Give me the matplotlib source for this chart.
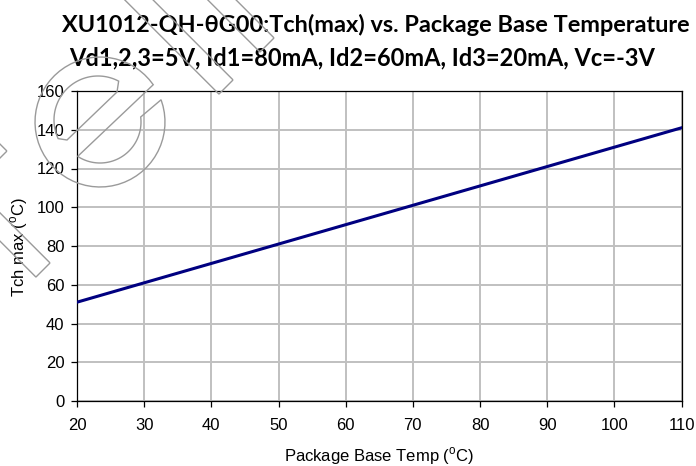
import matplotlib
matplotlib.use("Agg")
import matplotlib.pyplot as plt
from matplotlib.patches import Polygon
import numpy as np

# data
temp = [20, 30, 40, 50, 60, 70, 80, 90, 100, 110]
tch = [51, 61, 71, 81, 91, 101, 111, 121, 131, 141]
xticks = [20, 30, 40, 50, 60, 70, 80, 90, 100, 110]
yticks = [0, 20, 40, 60, 80, 100, 120, 140, 160]

title1 = "XU1012-QH-θG00:Tch(max) vs. Package Base Temperature"
title2 = "Vd1,2,3=5V, Id1=80mA, Id2=60mA, Id3=20mA, Vc=-3V"

plt.rcParams['font.family'] = ['Liberation Sans', 'DejaVu Sans']
plt.rcParams['mathtext.fontset'] = 'custom'
plt.rcParams['mathtext.rm'] = 'Liberation Sans'

W, H = 696, 466
fig = plt.figure(figsize=(W / 100, H / 100), dpi=100)
ax = fig.add_axes([77 / W, 1 - 401 / H, (681.5 - 77) / W, 310 / H])

ax.plot(temp, tch, color='#000080', lw=2.2, zorder=3)
ax.set_xlim(20, 110)
ax.set_ylim(0, 160)
ax.set_xticks(xticks)
ax.set_yticks(yticks)
ax.grid(color='#C0C0C0', lw=1.4)
ax.set_axisbelow(True)
for s in ax.spines.values():
    s.set_color('black')
    s.set_linewidth(0.9)
ax.tick_params(axis='both', direction='out', length=4, width=0.9,
               labelsize=12, colors='black')
ax.tick_params(axis='x', pad=8)
ax.tick_params(axis='y', pad=5)

fig.text(19 / W, 1 - 247 / H, r'Tch max ($^{\rm o}$C)', rotation=90,
         ha='center', va='center', fontsize=12)
fig.text(379 / W, 1 - 456 / H, r'Package Base Temp ($^{\rm o}$C)',
         ha='center', va='center', fontsize=12)

# titles, sized to match the reference widths
fam = ['Lato', 'Open Sans', 'DejaVu Sans']
t1 = fig.text(376 / W, 1 - 32 / H, title1, ha='center', va='baseline',
              fontsize=16, fontweight='bold', family=fam)
t2 = fig.text(362 / W, 1 - 65 / H, title2, ha='center', va='baseline',
              fontsize=16, fontweight='bold', family=fam)
fig.canvas.draw()
r = fig.canvas.get_renderer()
for t, target in [(t1, 628), (t2, 586)]:
    w = t.get_window_extent(r).width
    t.set_fontsize(16 * target / w)

# faint watermark outline (pixel coords, origin top-left)
wm = '#9a9a9a'


def outline(pts):
    p = [(x / W, 1 - y / H) for x, y in pts]
    fig.add_artist(Polygon(p, closed=True, fill=False, edgecolor=wm, lw=1.0,
                           transform=fig.transFigure, zorder=10))


def band(ex, ey, width, length, d=(-1, -1)):
    d = np.array(d, float) / np.hypot(*d)
    n = np.array([-d[1], d[0]])
    c = np.array([ex, ey])
    outline([c + n * width / 2, c - n * width / 2,
             c - n * width / 2 + d * length, c + n * width / 2 + d * length])


def arc(cx, cy, rad, a0, a1, n=60):
    a = np.radians(np.linspace(a0, a1, n))
    return list(zip(cx + rad * np.cos(a), cy - rad * np.sin(a)))


band(226, 87, 20, 200)
band(267, 45, 20, 120)
band(43, 270, 20, 120)
band(2, 156, 14, 20)
# ring part of the logo
outline(arc(100, 122, 65, 35, 380) + arc(100, 122, 41, 7, -123))
# inner cap of the logo
outline([(117, 92)] + arc(98, 120, 44, 62, 205) + [(67, 140)])

fig.savefig('out.png', dpi=100)
